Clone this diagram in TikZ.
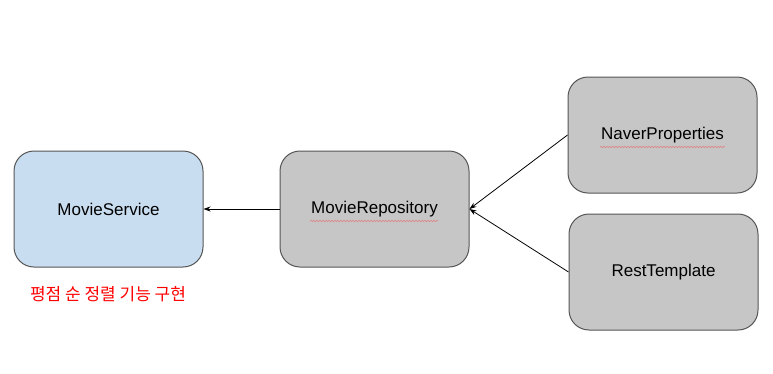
\documentclass[tikz,border=0pt]{standalone}
\usepackage{fontspec}
\setmainfont{Liberation Sans}
\newfontfamily\kofont{Noto Sans CJK KR}
\usetikzlibrary{decorations.pathmorphing,arrows.meta}
\definecolor{serviceblue}{HTML}{C9DDF0}
\definecolor{boxgray}{HTML}{C6C6C6}
\definecolor{boxedge}{HTML}{555555}
\definecolor{spellred}{HTML}{E08080}

\begin{document}
\begin{tikzpicture}[
    x=1pt, y=-1pt,
    >={Stealth[length=7pt, width=5pt]},
    line width=0.8pt,
    box/.style={rectangle, rounded corners=20pt, draw=boxedge, line width=1pt,
                minimum width=189pt, minimum height=116pt, inner sep=0pt,
                font=\fontsize{17}{20}\selectfont},
    squiggle/.style={draw=spellred, line width=0.5pt,
                decorate, decoration={snake, amplitude=0.8pt, segment length=3pt}}
]
  \useasboundingbox (0,0) rectangle (773,373);

  % nodes
  \node[box, fill=serviceblue] (S) at (108.5,209) {MovieService};
  \node[box, fill=boxgray]     (R) at (374.5,209) {MovieRepository};
  \node[box, fill=boxgray]     (N) at (662.5,135) {NaverProperties};
  \node[box, fill=boxgray]     (T) at (663.5,272) {RestTemplate};
  \node[text=red, font=\kofont\fontsize{17}{20}\selectfont] (L) at (108,294)
       {평점 순 정렬 기능 구현};

  % spell-check marks
  \coordinate (ra) at (310,221);
  \coordinate (rb) at (438,221);
  \coordinate (na) at (600,147);
  \coordinate (nb) at (725,147);
  \draw[squiggle] (ra) -- (rb);
  \draw[squiggle] (na) -- (nb);

  % edges
  \draw[->] (R.west) -- (S.east);
  \draw[->] (N.west) -- (R.east);
  \draw[->] (T.west) -- (R.east);
\end{tikzpicture}
\end{document}
